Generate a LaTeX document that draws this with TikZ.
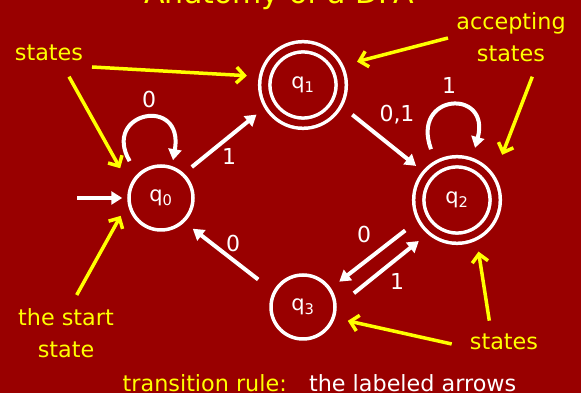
\documentclass[tikz,border=0pt]{standalone}
\usepackage{fontspec}
\setmainfont{DejaVu Sans}
\usetikzlibrary{arrows.meta}
\definecolor{slide}{HTML}{990000}
\definecolor{note}{HTML}{FFFF00}
\tikzset{
  state/.style={draw=white, circle, line width=3.5pt, minimum size=64pt, inner sep=0pt, text=white, font=\fontsize{21}{21}\selectfont},
  accept/.style={state, double=slide, double distance=6.7pt, minimum size=76.4pt, outer sep=7pt},
  edge/.style={white, line width=4pt, -{Triangle[length=11pt,width=13pt]}},
  pointer/.style={note, line width=3.5pt, -{Straight Barb[length=8pt,width=16pt]}},
  lbl/.style={text=white, font=\fontsize{22}{22}\selectfont},
  tag/.style={text=note, align=center, font=\fontsize{22.3}{31.5}\selectfont},
}
\begin{document}
\begin{tikzpicture}[x=1pt,y=1pt]
\useasboundingbox[fill=slide] (0,0) rectangle (581,393);
\node[text=note, anchor=base, font=\fontsize{30}{30}\selectfont] (title) at (279,389) {Anatomy of a DFA};

\node[state] (q0) at (161,195) {q\textsubscript{0}};
\node[accept] (q1) at (303,308) {q\textsubscript{1}};
\node[accept] (q2) at (457,193) {q\textsubscript{2}};
\node[state] (q3) at (303,86) {q\textsubscript{3}};

\coordinate (entry) at (77,195);
\draw[edge, shorten >=5pt] (entry) -- (q0.west);
\draw[edge, shorten <=15pt, shorten >=6pt] (q0.135) .. controls +(120:72) and +(80:72) .. (q0.71);
\draw[edge, shorten <=10pt, shorten >=10pt] (q0.47) -- (q1.211);
\draw[edge, shorten <=12.5pt, shorten >=8pt] (q1.331) -- (q2.140);
\draw[edge, shorten <=12pt, shorten >=10pt] (q2.119) .. controls +(110:72) and +(75:72) .. (q2.70);
\draw[edge, shorten <=15pt, shorten >=10.5pt] (q2.208) -- (q3.34);
\draw[edge, shorten <=22pt, shorten >=11pt] (q3.0) -- (q2.229);
\draw[edge, shorten <=19pt, shorten >=10.5pt] (q3.152) -- (q0.314);

\node[lbl] (l00) at (149,294) {0};
\node[lbl] (l01) at (229,237) {1};
\node[lbl] (l12) at (397,278) {0,1};
\node[lbl] (l22) at (449,308) {1};
\node[lbl] (l23) at (364,159) {0};
\node[lbl] (l32) at (397,112) {1};
\node[lbl] (l30) at (233,150) {0};

\node[tag, anchor=base] (statesTop) at (49,332) {states};
\node[tag] (acceptNote) at (511,355.6) {accepting\\states};
\node[tag] (startNote) at (66,60) {the start\\state};
\node[tag, anchor=base] (statesLow) at (504,43) {states};
\node[lbl, anchor=base, font=\fontsize{22.3}{22.3}\selectfont] (ruleNote) at (319.5,1.5) {\textcolor{note}{transition rule:}\quad the labeled arrows};

\coordinate (statesq1) at (92,326);
\coordinate (statesq0) at (69,316.3);
\coordinate (acceptq1) at (448,355);
\coordinate (acceptq2) at (532.3,316.3);
\coordinate (startq0) at (76.7,98);
\coordinate (statesq3) at (451.7,49);
\coordinate (statesq2) at (489.3,72.3);
\draw[pointer, shorten >=11.8pt] (statesq1) -- (q1.169);
\draw[pointer, shorten >=19.6pt] (statesq0) -- (q0.158);
\draw[pointer, shorten >=13.9pt] (acceptq1) -- (q1.26);
\draw[pointer, shorten >=21.4pt] (acceptq2) -- (q2.34);
\draw[pointer, shorten >=14.4pt] (startq0) -- (q0.189);
\draw[pointer, shorten >=13.2pt] (statesq3) -- (q3.341);
\draw[pointer, shorten >=11.1pt] (statesq2) -- (q2.296);
\end{tikzpicture}
\end{document}
